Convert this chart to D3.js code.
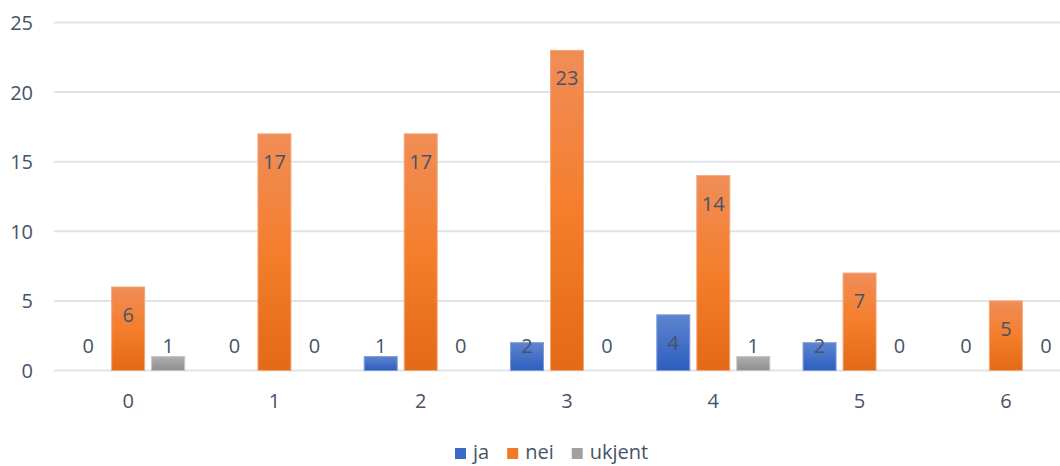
<!DOCTYPE html>
<html><head><meta charset="utf-8">
<script src="https://cdn.jsdelivr.net/npm/d3@7/dist/d3.min.js"></script>
<style>body{margin:0;background:#fff}svg{display:block}text{font-family:"Open Sans",sans-serif;fill:#465368}</style>
</head><body>
<svg id="c" width="1060" height="466"></svg>
<script>
const categories = ["0","1","2","3","4","5","6"];
const seriesNames = ["ja","nei","ukjent"];
const ja = [0,0,1,2,4,2,0];
const nei = [6,17,17,23,14,7,5];
const ukjent = [1,0,0,0,1,0,0];
const yTicks = [0,5,10,15,20,25];
const seriesValues = {ja, nei, ukjent};

const svg = d3.select("#c");
const defs = svg.append("defs");
const grads = {
  ja: ["#5d84cf","#2d5ebf"],
  nei: ["#f08d57","#f47e2c","#e36a16"],
  ukjent: ["#aeaeae","#8f8f8f"]
};
const strokes = {ja:"#7c9cd8", nei:"#f5a77a", ukjent:"#c4c4c4"};
const legendCol = {ja:"#3a69c6", nei:"#f07a28", ukjent:"#a0a0a0"};
Object.entries(grads).forEach(([k,c])=>{
  const g = defs.append("linearGradient").attr("id","g_"+k).attr("x1",0).attr("y1",0).attr("x2",0).attr("y2",1);
  c.forEach((col,i)=>g.append("stop").attr("offset",i/(c.length-1)).attr("stop-color",col));
});

const x0 = d3.scaleBand().domain(categories).range([55,1079]).padding(0);
const x1 = d3.scaleBand().domain(seriesNames).range([-56.5,56.5]).paddingInner(0.175).paddingOuter(0);
const y = d3.scaleLinear().domain([0,25]).range([370.5,22.5]);

const FS = "20px";

// gridlines
svg.append("g").selectAll("line").data(yTicks).join("line")
  .attr("x1",54).attr("x2",1079).attr("y1",d=>y(d)).attr("y2",d=>y(d))
  .attr("stroke","#dfe3ea").attr("stroke-width",2);

// y axis labels
const yAxis = d3.axisLeft(y).tickValues(yTicks).tickSize(0).tickPadding(0);
const ya = svg.append("g").attr("transform","translate(33,0)").call(yAxis);
ya.select(".domain").remove();
ya.selectAll("text").style("font-size",FS).style("font-family","'Open Sans',sans-serif").attr("fill","#465368").attr("dy","0.35em");

// x axis labels
const xAxis = d3.axisBottom(x0).tickSize(0).tickPadding(0);
const xa = svg.append("g").attr("transform","translate(0,401)").call(xAxis);
xa.select(".domain").remove();
xa.selectAll("text").style("font-size",FS).style("font-family","'Open Sans',sans-serif").attr("fill","#465368").attr("dy","0.35em");

// bars
const groups = svg.append("g").selectAll("g").data(categories).join("g")
  .attr("transform",d=>`translate(${x0(d)+x0.bandwidth()/2},0)`);
seriesNames.forEach(s=>{
  groups.append("rect")
    .attr("x",x1(s)).attr("width",x1.bandwidth())
    .attr("y",(d,i)=>y(seriesValues[s][i]))
    .attr("height",(d,i)=>y(0)-y(seriesValues[s][i]))
    .attr("fill","url(#g_"+s+")")
    .attr("stroke",(d,i)=>seriesValues[s][i]>0?strokes[s]:"none").attr("stroke-width",1);
  groups.append("text")
    .attr("x",x1(s)+x1.bandwidth()/2)
    .attr("y",(d,i)=>Math.min(y(seriesValues[s][i])+28, 346))
    .attr("dy","0.35em").attr("text-anchor","middle")
    .style("font-size",FS)
    .text((d,i)=>seriesValues[s][i]);
});

// legend
const lg = svg.append("g");
let lx = 455;
seriesNames.forEach(s=>{
  lg.append("rect").attr("x",lx).attr("y",448).attr("width",11).attr("height",11).attr("fill",legendCol[s]);
  const t = lg.append("text").attr("x",lx+18).attr("y",452).attr("dy","0.35em").style("font-size",FS).text(s);
  lx += 18 + t.node().getComputedTextLength() + 18;
});
</script>
</body></html>
